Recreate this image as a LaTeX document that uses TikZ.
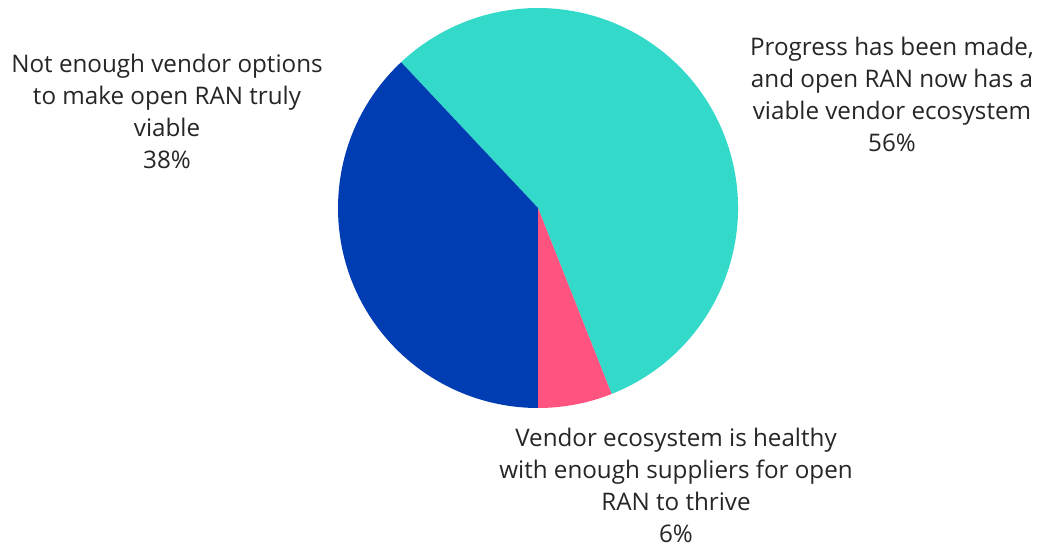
\documentclass[tikz,border=0pt]{standalone}
\usepackage{fontspec}
\setmainfont{Open Sans}
\definecolor{sliceTeal}{HTML}{33D9C9}
\definecolor{sliceBlue}{HTML}{003DB3}
\definecolor{slicePink}{HTML}{FF5480}
\definecolor{labelInk}{HTML}{262626}
\tikzset{
  slicelabel/.style={align=center, text=labelInk, inner sep=0pt,
    font=\fontsize{24.2}{32}\selectfont},
}
\begin{document}
\begin{tikzpicture}[x=1pt,y=1pt]
  \useasboundingbox[fill=white] (0,0) rectangle (1040,546);
  \coordinate (c) at (538,338);
  \def\R{200}
  % viable vendor ecosystem: 56%
  \fill[sliceTeal] (c) -- ++(-68.4:\R) arc[start angle=-68.4, end angle=133.2, radius=\R] -- cycle;
  % not enough vendor options: 38%
  \fill[sliceBlue] (c) -- ++(133.2:\R) arc[start angle=133.2, end angle=270, radius=\R] -- cycle;
  % healthy ecosystem: 6%
  \fill[slicePink] (c) -- ++(270:\R) arc[start angle=270, end angle=291.6, radius=\R] -- cycle;

  \node[slicelabel] (lblNot) at (167,435) {Not enough vendor options\\to make open RAN truly\\viable\\38\%};
  \node[slicelabel] (lblProg) at (892,452) {Progress has been made,\\and open RAN now has a\\viable vendor ecosystem\\56\%};
  \node[slicelabel] (lblHealthy) at (676,61) {Vendor ecosystem is healthy\\with enough suppliers for open\\RAN to thrive\\6\%};
\end{tikzpicture}
\end{document}
